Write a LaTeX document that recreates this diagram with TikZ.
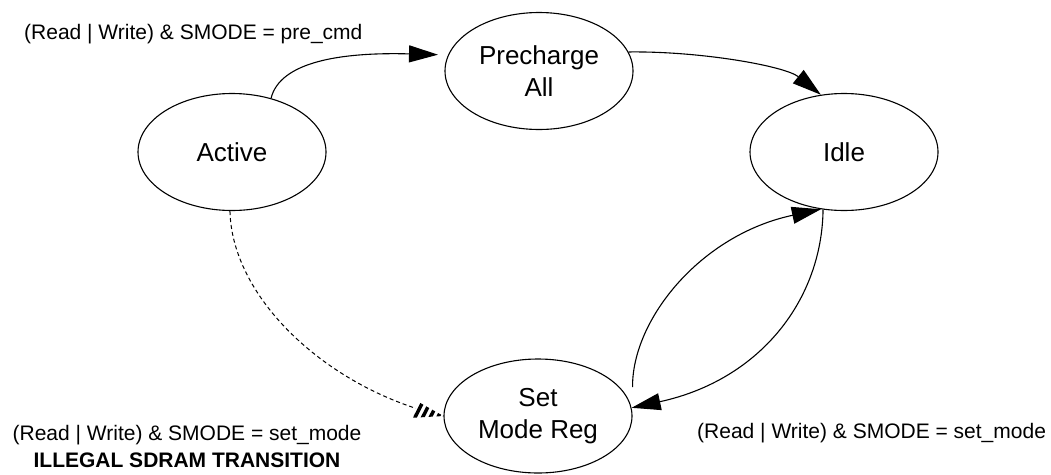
\documentclass[tikz,border=0pt]{standalone}
\usepackage{fontspec}
\setmainfont{Liberation Sans}
\usetikzlibrary{shapes.geometric,arrows.meta}
\begin{document}
\begin{tikzpicture}[x=1pt,y=-1pt,
  state/.style={ellipse,draw,line width=1.1pt,minimum width=188pt,minimum height=117pt,inner sep=0pt,align=center,font=\fontsize{26}{32}\selectfont},
  trans/.style={line width=1.1pt,-{Triangle[length=29pt,width=17pt]}},
  illegal/.style={line width=1pt,dash pattern=on 4pt off 3pt},
  lbl/.style={inner sep=0pt,font=\fontsize{21}{27}\selectfont}]
\useasboundingbox (0,0) rectangle (1051,474);
\node[state] (act) at (232,152) {Active};
\node[state] (pre) at (539,71) {Precharge\\All};
\node[state] (idle) at (844,152) {Idle};
\node[state,minimum height=114pt] (sm) at (538,416) {Set\\Mode Reg};

\draw[trans,shorten >=10pt] (act.54) .. controls (280,62) and (340,52) .. (pre.170);
\draw[trans] (pre.12) .. controls (700,51) and (785,66) .. (idle.112);
\draw[trans] ([yshift=29pt]sm.east) .. controls (632,320) and (700,235) .. (idle.248);
\draw[trans] (idle.250) .. controls (822,300) and (760,380) .. (sm.5);
\draw[illegal] (act.268) .. controls (232,300) and (330,390) .. (sm.west);
\begin{scope}[shift={(sm.west)},rotate=-13]
  \fill[white] (0pt,0pt) -- (-29pt,8.5pt) -- (-29pt,-8.5pt) -- cycle;
  \clip (0pt,0pt) -- (-29pt,8.5pt) -- (-29pt,-8.5pt) -- cycle;
  \foreach \s in {-28,-21,-14,-7}
    \draw[line width=3.5pt] ({\s pt},-10pt) -- ({\s pt + 5pt},10pt);
\end{scope}

\node[lbl,anchor=base west] (l1) at (24,39) {(Read | Write) \& SMODE = pre\_cmd};
\node[lbl,align=center] (l2) at (187,446) {(Read | Write) \& SMODE = set\_mode\\\textbf{ILLEGAL SDRAM TRANSITION}};
\node[lbl,anchor=base west] (l3) at (697,438) {(Read | Write) \& SMODE = set\_mode};
\end{tikzpicture}
\end{document}
